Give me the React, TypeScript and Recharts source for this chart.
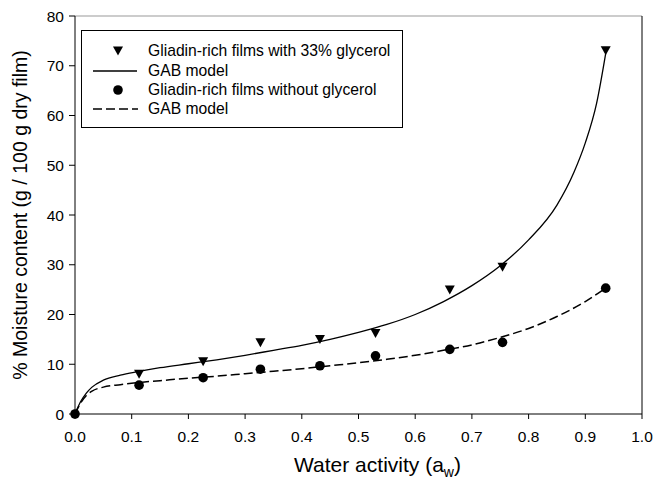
import React from 'react';
import { ComposedChart, Line, Scatter, XAxis, YAxis, ReferenceLine, Label } from 'recharts';

const glyAw = [0.113, 0.226, 0.327, 0.432, 0.53, 0.661, 0.754, 0.936];
const glyMoisture = [8.0, 10.5, 14.3, 15.0, 16.2, 24.9, 29.5, 73.0];
const noGlyAw = [0, 0.113, 0.226, 0.327, 0.432, 0.53, 0.661, 0.754, 0.936];
const noGlyMoisture = [0, 5.8, 7.3, 9.0, 9.7, 11.7, 13.0, 14.4, 25.3];

// GAB model curves
const gabGlyAw = [0, 0.01, 0.02, 0.03, 0.05, 0.08, 0.11, 0.15, 0.2, 0.25, 0.3, 0.35, 0.4, 0.45, 0.5, 0.55, 0.6, 0.65, 0.7, 0.75, 0.8, 0.85, 0.88, 0.9, 0.92, 0.936];
const gabGlyMoisture = [0, 2.5, 4.2, 5.4, 6.8, 7.8, 8.5, 9.3, 10.1, 10.9, 11.8, 12.8, 13.8, 15.0, 16.4, 18.0, 20.0, 22.6, 25.8, 29.8, 35.0, 42.0, 48.6, 54.5, 62.5, 72.5];
const gabNoGlyAw = [0, 0.01, 0.02, 0.03, 0.05, 0.08, 0.11, 0.15, 0.2, 0.25, 0.3, 0.35, 0.4, 0.45, 0.5, 0.55, 0.6, 0.65, 0.7, 0.75, 0.8, 0.85, 0.9, 0.936];
const gabNoGlyMoisture = [0, 2.2, 3.7, 4.6, 5.4, 5.9, 6.3, 6.7, 7.2, 7.6, 8.1, 8.6, 9.1, 9.7, 10.3, 11.0, 11.8, 12.8, 13.9, 15.4, 17.2, 19.6, 22.6, 25.3];

const xTicks = [0, 0.1, 0.2, 0.3, 0.4, 0.5, 0.6, 0.7, 0.8, 0.9, 1.0];
const yTicks = [0, 10, 20, 30, 40, 50, 60, 70, 80];

const legendLabels = [
    'Gliadin-rich films with 33% glycerol',
    'GAB model',
    'Gliadin-rich films without glycerol',
    'GAB model',
];

const toPoints = (aw: number[], m: number[]) => aw.map((a, i) => ({ aw: a, m: m[i] }));

const glyPoints = toPoints(glyAw, glyMoisture);
const noGlyPoints = toPoints(noGlyAw, noGlyMoisture);
const gabGly = toPoints(gabGlyAw, gabGlyMoisture);
const gabNoGly = toPoints(gabNoGlyAw, gabNoGlyMoisture);

const FONT = '"Liberation Sans", Arial, sans-serif';

const Triangle = (props: any) => {
    const { cx, cy } = props;
    if (cx == null || cy == null) return null;
    return <path d={`M${cx - 5},${cy - 4.5} L${cx + 5},${cy - 4.5} L${cx},${cy + 4.5} Z`} fill="#000" />;
};

const Dot = (props: any) => {
    const { cx, cy } = props;
    if (cx == null || cy == null) return null;
    return <circle cx={cx} cy={cy} r={4.8} fill="#000" />;
};

const XTitle = (props: any) => {
    const vb = props.viewBox || { x: 0, y: 0, width: 0 };
    return (
        <text x={vb.x + vb.width / 2 + 19} y={vb.y + 58} textAnchor="middle" fontSize={21} fontFamily={FONT} fill="#000">
            Water activity (a
            <tspan fontSize={14} dy={5}>w</tspan>
            <tspan dy={-5}>)</tspan>
        </text>
    );
};

const LegendBox: React.FC = () => {
    const rows = [20, 40, 59, 78];
    return (
        <div style={{ position: 'absolute', left: 81, top: 30, width: 322, height: 98, border: '1px solid #000', background: '#fff', boxSizing: 'border-box' }}>
            <svg width={320} height={96}>
                <path d={`M31,${rows[0] - 4.5} L41,${rows[0] - 4.5} L36,${rows[0] + 4.5} Z`} fill="#000" />
                <line x1={11} x2={55} y1={rows[1]} y2={rows[1]} stroke="#000" strokeWidth={1.3} />
                <circle cx={36} cy={rows[2]} r={4.8} fill="#000" />
                <line x1={11} x2={56} y1={rows[3]} y2={rows[3]} stroke="#000" strokeWidth={1.5} strokeDasharray="9 4" />
                {legendLabels.map((t, i) => (
                    <text key={i} x={66} y={rows[i] + 5} fontSize={15.7} fontFamily={FONT} fill="#000">{t}</text>
                ))}
            </svg>
        </div>
    );
};

export default function App() {
    return (
        <div style={{ position: 'absolute', left: 0, top: 0, width: 655, height: 481, background: '#fff' }}>
            <ComposedChart width={655} height={481} margin={{ top: 16, right: 13, bottom: 17, left: 0 }}>
                <XAxis
                    type="number"
                    dataKey="aw"
                    domain={[0, 1]}
                    ticks={xTicks}
                    tickFormatter={(v: number) => v.toFixed(1)}
                    height={50}
                    tickSize={5}
                    tickMargin={12}
                    stroke="#000"
                    tick={{ fill: '#000', fontSize: 15.5, fontFamily: FONT }}
                >
                    <Label content={<XTitle />} />
                </XAxis>
                <YAxis
                    type="number"
                    domain={[0, 80]}
                    ticks={yTicks}
                    width={75}
                    tickSize={6}
                    tickMargin={5}
                    stroke="#000"
                    tick={{ fill: '#000', fontSize: 15.5, fontFamily: FONT }}
                >
                    <Label
                        value="% Moisture content (g / 100 g dry film)"
                        angle={-90}
                        position="insideLeft"
                        offset={20}
                        style={{ textAnchor: 'middle', fontSize: 19.5, fontFamily: FONT, fill: '#000' }}
                    />
                </YAxis>
                <ReferenceLine y={80} stroke="#999" strokeWidth={1.2} />
                <ReferenceLine x={1} stroke="#000" strokeWidth={1} />
                <Line data={gabGly} dataKey="m" type="monotone" stroke="#000" strokeWidth={1.3} dot={false} isAnimationActive={false} />
                <Line data={gabNoGly} dataKey="m" type="monotone" stroke="#000" strokeWidth={1.5} strokeDasharray="9 4" dot={false} isAnimationActive={false} />
                <Scatter data={glyPoints} dataKey="m" shape={<Triangle />} isAnimationActive={false} />
                <Scatter data={noGlyPoints} dataKey="m" shape={<Dot />} isAnimationActive={false} />
            </ComposedChart>
            <LegendBox />
        </div>
    );
}
